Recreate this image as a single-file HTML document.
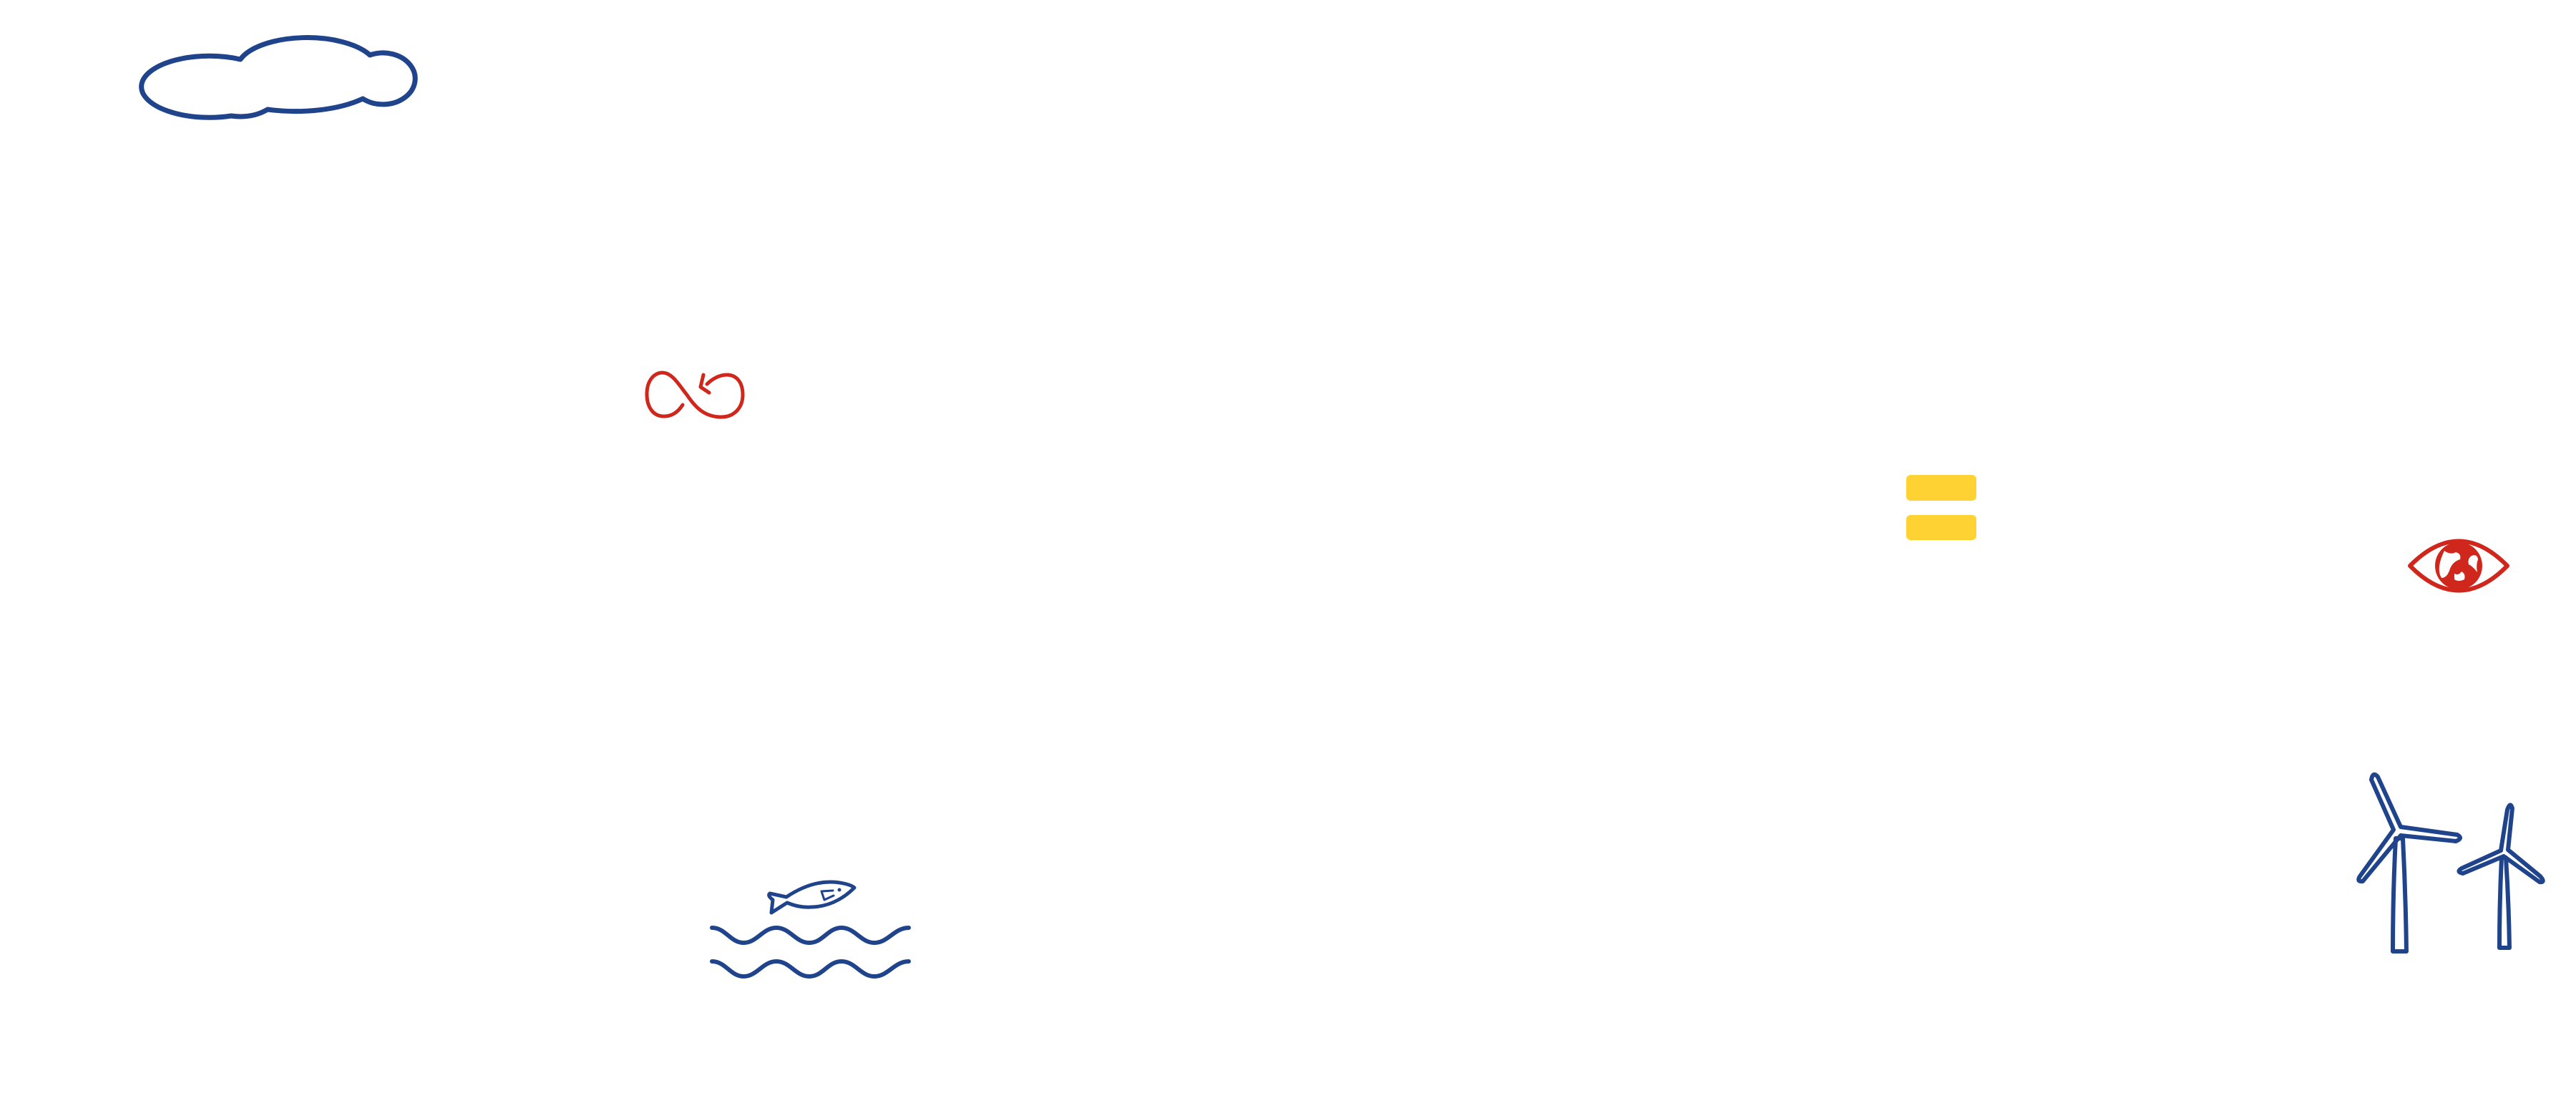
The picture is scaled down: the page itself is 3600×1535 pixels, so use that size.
<!DOCTYPE html>
<html><head><meta charset="utf-8"><style>html,body{margin:0;padding:0;background:#fff}svg{display:block}</style></head>
<body>
<svg width="3600" height="1535" viewBox="0 0 3600 1535" xmlns="http://www.w3.org/2000/svg">
<g fill="none" stroke="#1f448c" stroke-width="7" stroke-linecap="round" stroke-linejoin="round">
<!-- cloud -->
<path d="M336,83 A98,44 0 0 1 517,77 A45,36 0 1 1 507,138 A125,52 0 0 1 374,153 Q352,166 323,162 A95,43 0 1 1 336,83 Z"/>
<!-- fish -->
<path d="M1099,1254 C1120,1240 1140,1233 1160,1233 C1175,1233 1190,1237 1194,1241 C1185,1250 1165,1267 1135,1268 C1120,1269 1110,1266 1100,1262 M1099,1254 L1076,1249 Q1072,1252 1080,1258 L1078,1276 L1100,1262" stroke-width="5"/>
<path d="M1164,1245 L1148,1246 L1152,1258 L1165,1252" stroke-width="3"/>
<circle cx="1173" cy="1244" r="2.5" fill="#1f448c" stroke="none"/>
<!-- waves -->
<path d="M995,1297 C1014,1297 1021,1318 1039,1318 C1058,1318 1066,1297 1085,1297 C1104,1297 1112,1318 1131,1318 C1150,1318 1157,1297 1176,1297 C1195,1297 1203,1318 1222,1318 C1241,1318 1250,1297 1270,1297" stroke-width="6"/>
<path d="M995,1344 C1014,1344 1021,1365 1039,1365 C1058,1365 1066,1344 1085,1344 C1104,1344 1112,1365 1131,1365 C1150,1365 1157,1344 1176,1344 C1195,1344 1203,1365 1222,1365 C1241,1365 1250,1344 1270,1344" stroke-width="6"/>
<!-- turbine 1 -->
<g stroke-width="6">
<path d="M3345,1160 L3314,1090 Q3316,1078 3323,1086 L3355,1156 L3434,1167 Q3443,1172 3432,1176 L3355,1168 L3302,1232 Q3293,1233 3298,1225 Z"/>
<path d="M3348,1172 L3358,1172 Q3362,1250 3363,1330 L3344,1330 Q3344,1250 3348,1172 Z"/>
</g>
<!-- turbine 2 -->
<g stroke-width="6">
<path d="M3495,1189 L3504,1132 Q3508,1120 3511,1130 L3505,1188 L3550,1225 Q3558,1234 3549,1233 L3499,1197 L3442,1221 Q3432,1219 3440,1214 Z"/>
<path d="M3496,1199 L3502,1199 Q3506,1260 3507,1325 L3493,1325 Q3493,1260 3496,1199 Z"/>
</g>
</g>
<!-- infinity -->
<g fill="none" stroke="#d0271d" stroke-width="5" stroke-linecap="round" stroke-linejoin="round">
<path d="M954,566 C945,580 935,582 928,582 C912,582 904,568 904,551 C904,532 914,521 926,521 C940,521 950,540 960,552 C972,570 985,583 1008,583 C1026,583 1038,570 1038,552 C1038,533 1028,524 1016,524 C1005,524 995,530 988,537"/>
<path d="M983,524 L979,541 L991,549"/>
<!-- eye -->
<path d="M3368,791 Q3436,722 3504,791 Q3436,860 3368,791 Z" stroke-width="6"/>
</g>
<circle cx="3436" cy="791" r="33" fill="#d0271d"/>
<g fill="#fff">
<path d="M3416,770 Q3424,776 3432,772 Q3440,774 3438,782 Q3428,785 3424,795 Q3420,808 3412,808 Q3404,795 3416,770 Z"/>
<path d="M3454,777 Q3462,774 3463,782 Q3460,790 3462,800 Q3456,792 3450,789 Q3448,781 3454,777 Z"/>
<path d="M3430,802 Q3436,805 3440,799 Q3446,802 3444,810 Q3436,814 3430,810 Z"/>
</g>
<!-- yellow bars -->
<rect x="2664" y="664" width="98" height="36" rx="6" fill="#ffd233"/>
<rect x="2664" y="720" width="98" height="35" rx="6" fill="#ffd233"/>
</svg>
</body></html>
